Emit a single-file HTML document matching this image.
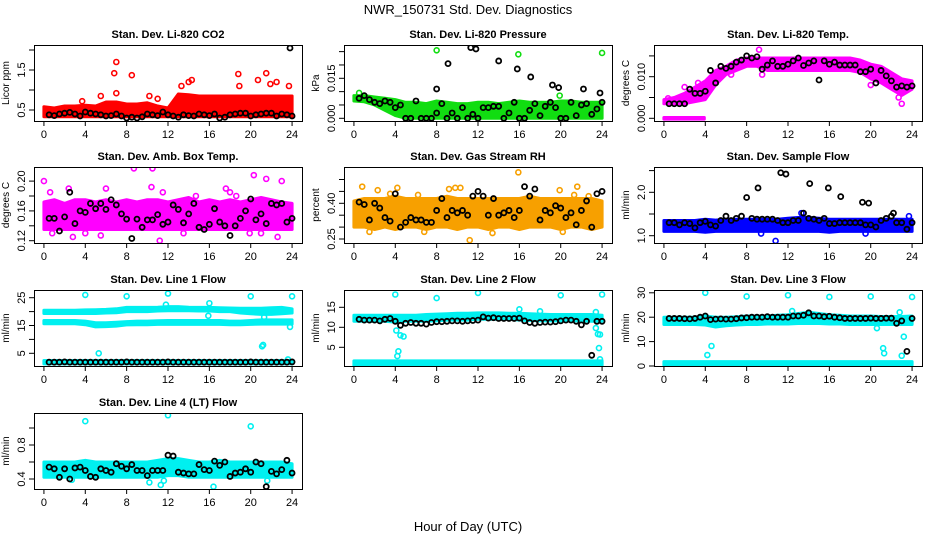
<!DOCTYPE html>
<html><head><meta charset="utf-8"><style>
html,body{margin:0;padding:0;background:#fff}
svg{display:block;font-family:"Liberation Sans",sans-serif}
</style></head><body>
<svg id="chart" width="936" height="540" viewBox="0 0 936 540" xmlns="http://www.w3.org/2000/svg">
<text x="468" y="14" text-anchor="middle" font-size="13">NWR_150731 Std. Dev. Diagnostics</text>
<text x="468" y="531" text-anchor="middle" font-size="13">Hour of Day (UTC)</text>
</svg>
<script>
const hourTicks=[0,4,8,12,16,20,24];
const bandHours=[0,1,2,3,4,5,6,7,8,9,10,11,12,13,14,15,16,17,18,19,20,21,22,23,24];
const halfHours=[];for(let i=1;i<=48;i++)halfHours.push(i*0.5);

// Panel 1 CO2
const co2Lo=[0.33,0.33,0.33,0.33,0.33,0.33,0.33,0.33,0.33,0.33,0.33,0.33,0.33,0.33,0.33,0.33,0.33,0.33,0.33,0.33,0.33,0.33,0.33,0.33,0.33];
const co2Hi=[0.58,0.55,0.6,0.6,0.62,0.6,0.7,0.7,0.65,0.65,0.68,0.6,0.55,0.9,0.88,0.85,0.85,0.85,0.85,0.85,0.85,0.85,0.85,0.85,0.85];
const co2Out=[[6.8,1.42],[7.0,1.7],[8.5,1.37],[13.3,1.1],[14,1.2],[14.3,1.25],[18.8,1.4],[18.9,1.1],[20.7,1.25],[21.5,1.42],[21.9,1.15],[22.5,1.2],[23.7,1.1],[7.0,0.92],[3.7,0.72],[10.2,0.85],[5.5,0.85],[11,0.78]];
const co2Black=[0.38,0.36,0.4,0.42,0.44,0.4,0.35,0.45,0.42,0.4,0.38,0.35,0.36,0.4,0.35,0.3,0.32,0.3,0.33,0.4,0.38,0.36,0.45,0.38,0.35,0.32,0.38,0.36,0.35,0.4,0.38,0.36,0.4,0.3,0.32,0.38,0.4,0.42,0.42,0.35,0.38,0.4,0.42,0.42,0.35,0.4,0.38,0.35];
const co2BlackOut=[[23.8,2.05]];
// Panel 2 Pressure
const presLo=[0.0065,0.0062,0.005,0.003,0.001,0,0,0,0,0,0,0,0,0,0,0,0,0,0,0,0,0,0,0,0];
const presHi=[0.0085,0.0085,0.008,0.0075,0.007,0.006,0.006,0.0055,0.0065,0.006,0.0055,0.0055,0.006,0.006,0.0055,0.006,0.0065,0.006,0.006,0.006,0.0065,0.0065,0.006,0.006,0.006];
const presOut=[[8,0.0255],[15.9,0.024],[24,0.0245],[0.5,0.0095],[19.9,0.0085]];
const presBlack=[0.0075,0.0085,0.007,0.006,0.0055,0.0065,0.006,0.004,0.005,0,0,0.0065,0,0,0,0.002,0.0055,0,0.002,0,0.004,0,0.0015,0,0.004,0.004,0.0045,0.0045,0,0.002,0.006,0,0,0.003,0.0055,0.001,0.0045,0.006,0.004,0,0,0.006,0.001,0.005,0.0055,0.0015,0.0035,0.006];
const presBlackOut=[[8,0.011],[9.1,0.0205],[11.3,0.0265],[11.8,0.026],[14,0.0215],[15.8,0.0185],[17.1,0.0155],[19.2,0.0125],[19.8,0.0115],[22.2,0.011],[23.8,0.0095]];
// Panel 3 Temp
const tempLo=[0.0035,0.0035,0.0035,0.004,0.0045,0.008,0.0105,0.0115,0.0125,0.0125,0.0115,0.0115,0.0115,0.0115,0.0115,0.0115,0.0115,0.0115,0.0115,0.011,0.0095,0.0085,0.007,0.0055,0.007];
const tempHi=[0.0045,0.005,0.006,0.0075,0.009,0.0115,0.0125,0.014,0.0145,0.0145,0.0145,0.0145,0.0145,0.0145,0.0145,0.0145,0.0145,0.0145,0.0145,0.014,0.013,0.0125,0.011,0.0095,0.009];
const tempZeroLo=[-0.0002,-0.0002,-0.0002,-0.0002,-0.0002];
const tempZeroHi=[0.0002,0.0002,0.0002,0.0002,0.0002];
const tempOut=[[9.2,0.0165],[2,0.0075],[3.3,0.0085],[0.4,0.0048],[20,0.008],[23,0.0035],[22.7,0.005],[9.5,0.0105],[6.5,0.0105]];
const tempBlack=[0.0035,0.0035,0.0035,0.0035,0.007,0.006,0.006,0.0065,0.0115,0.0085,0.0125,0.012,0.0125,0.0135,0.014,0.015,0.0145,0.0148,0.0118,0.0128,0.0138,0.0125,0.0125,0.013,0.0138,0.0145,0.0127,0.0133,0.0138,0.0092,0.0138,0.013,0.0135,0.0128,0.0128,0.0128,0.0128,0.0112,0.0112,0.0118,0.0085,0.0115,0.0102,0.009,0.0075,0.0078,0.0075,0.0078];
// Panel 4 Amb box temp
const ambLo=[0.135,0.135,0.135,0.135,0.135,0.135,0.135,0.135,0.135,0.135,0.135,0.135,0.135,0.135,0.135,0.135,0.135,0.135,0.135,0.135,0.135,0.135,0.135,0.135,0.135];
const ambHi=[0.172,0.175,0.17,0.175,0.175,0.172,0.175,0.172,0.175,0.172,0.175,0.175,0.172,0.175,0.178,0.172,0.175,0.172,0.175,0.172,0.175,0.178,0.175,0.172,0.17];
const ambOut=[[0,0.2],[0.6,0.185],[2.4,0.19],[8.7,0.217],[10.5,0.217],[10.4,0.192],[11.2,0.12],[20.3,0.208],[21.5,0.203],[23,0.2],[2.8,0.125],[5.5,0.127],[22.6,0.125],[19.9,0.13],[6,0.19],[11.5,0.185],[17.6,0.19],[18,0.185],[14.7,0.18],[0.8,0.13],[4,0.13],[13.5,0.13],[21,0.13],[18.6,0.18]];
const ambBlack=[0.15,0.15,0.133,0.152,0.185,0.143,0.16,0.158,0.17,0.163,0.17,0.162,0.175,0.168,0.156,0.149,0.123,0.149,0.138,0.148,0.148,0.155,0.142,0.145,0.168,0.162,0.144,0.156,0.17,0.138,0.135,0.142,0.163,0.145,0.14,0.127,0.14,0.15,0.16,0.176,0.148,0.156,0.143,0.17,0.168,0.17,0.145,0.15];
// Panel 5 RH
const rhLo=[0.3,0.3,0.29,0.3,0.29,0.3,0.3,0.29,0.3,0.3,0.29,0.3,0.3,0.29,0.3,0.3,0.29,0.3,0.3,0.3,0.29,0.3,0.3,0.29,0.3];
const rhHi=[0.41,0.42,0.42,0.42,0.43,0.42,0.42,0.42,0.42,0.43,0.42,0.42,0.42,0.42,0.42,0.42,0.42,0.43,0.42,0.42,0.42,0.42,0.42,0.42,0.41];
const rhOut=[[0.8,0.47],[2.3,0.455],[4.2,0.465],[9.2,0.46],[9.8,0.465],[10.3,0.465],[15.9,0.53],[11.2,0.245],[21.6,0.47],[22.7,0.43],[19.9,0.455],[6.2,0.435],[21.3,0.435],[13.4,0.275],[20.2,0.28],[1.5,0.28],[6.8,0.28],[3.5,0.44]];
const rhBlack=[0.405,0.395,0.33,0.4,0.38,0.34,0.325,0.44,0.3,0.32,0.34,0.33,0.33,0.32,0.32,0.37,0.42,0.34,0.37,0.36,0.37,0.35,0.43,0.45,0.43,0.35,0.42,0.35,0.36,0.37,0.34,0.37,0.47,0.43,0.46,0.33,0.37,0.36,0.39,0.38,0.34,0.36,0.31,0.37,0.41,0.3,0.44,0.45];
// Panel 6 Sample flow
const sfLo=[1.1,1.1,1.1,1.1,1.08,1.1,1.1,1.1,1.1,1.1,1.1,1.1,1.1,1.1,1.1,1.1,1.08,1.1,1.1,1.1,1.1,1.1,1.1,1.1,1.1];
const sfHi=[1.35,1.35,1.35,1.35,1.38,1.36,1.38,1.38,1.38,1.38,1.38,1.38,1.4,1.42,1.42,1.4,1.38,1.38,1.38,1.38,1.38,1.38,1.38,1.38,1.38];
const sfOut=[[10.8,0.88],[13.3,1.52],[23.7,1.45],[9.4,1.05],[19.5,1.05]];
const sfBlack=[1.3,1.3,1.25,1.3,1.28,1.18,1.3,1.33,1.25,1.22,1.35,1.45,1.35,1.4,1.45,1.88,1.4,1.38,1.38,1.38,1.38,1.35,1.3,1.3,1.35,1.35,1.52,1.4,1.38,1.35,1.4,1.28,1.28,1.3,1.3,1.3,1.3,1.3,1.25,1.25,1.2,1.35,1.4,1.45,1.3,1.3,1.15,1.3];
const sfBlackOut=[[9.1,2.1],[11.3,2.45],[11.8,2.42],[14.1,2.2],[15.9,2.1],[17.1,1.9],[19.2,1.77],[19.8,1.75],[22.2,1.52]];
// Panel 7 Line 1
const l1UpLo=[19.3,19.3,19.3,19.3,19.3,19.3,19.5,19.6,20,20,20,20.2,20.3,20.3,20.3,20.2,20.2,20,20,19.5,19.2,19,19,19.2,19.5];
const l1UpHi=[20.5,20.5,20.5,20.5,20.6,20.7,20.8,21,21.5,21.5,21.5,21.6,21.8,21.8,21.6,21.5,21.5,21.4,21.3,21.2,21.2,21.2,21.4,21.5,21];
const l1MidLo=[15.6,15.6,15.6,15.6,15.3,14.5,14.6,14.8,15.2,15.3,15.3,15.4,15.4,15.4,15.4,15.4,15.4,15.4,15.3,15.3,15.4,15.5,15.5,15.5,15.5];
const l1MidHi=[16.8,16.8,16.8,16.8,16.6,16,16,16.2,16.4,16.6,16.6,16.7,16.8,16.8,16.8,16.8,16.8,16.8,16.6,16.6,16.8,17,17,17,17];
const l1BotLo=[1.2,1.2,1.2,1.2,1.2,1.2,1.2,1.2,1.2,1.2,1.2,1.2,1.2,1.2,1.2,1.2,1.2,1.2,1.2,1.2,1.2,1.2,1.2,1.2,1.2];
const l1BotHi=[2.4,2.4,2.4,2.4,2.4,2.4,2.4,2.4,2.4,2.4,2.4,2.4,2.4,2.4,2.4,2.4,2.4,2.4,2.4,2.4,2.4,2.4,2.4,2.4,2.4];
const l1Out=[[4,26],[8,25.5],[12,26.5],[16,23],[20,25.5],[24,25.5],[5.3,5],[21.2,8],[21.1,7.5],[23.6,2.8],[23.8,14.5],[11.8,22.5],[15.9,18.5],[21.3,18]];
const l1Black=[1.8,1.8,1.8,1.9,1.8,1.8,1.8,1.8,1.8,1.8,1.8,1.8,1.8,1.8,1.8,1.9,1.8,1.8,1.8,1.8,1.8,1.8,1.8,1.9,1.8,1.8,1.8,1.8,1.8,1.8,1.8,1.8,1.8,1.8,1.8,1.8,1.8,1.8,1.8,1.9,1.8,1.8,1.8,1.8,1.8,1.8,1.8,1.9];
// Panel 8 Line 2
const l2Lo=[11.5,11.5,11.5,11.5,11.3,11.5,11.5,11.5,11.6,11.8,11.8,11.8,12,12,12,12,11.8,11.7,11.6,11.6,11.6,11.6,11.6,11.5,11.5];
const l2Hi=[13,13,13,13,13,13,13,13.2,13.3,13.4,13.5,13.5,13.6,13.6,13.6,13.5,13.5,13.4,13.3,13.2,13.2,13.2,13.2,13.2,13];
const l2BotLo=[0.5,0.5,0.5,0.5,0.5,0.5,0.5,0.5,0.5,0.5,0.5,0.5,0.5,0.5,0.5,0.5,0.5,0.5,0.5,0.5,0.5,0.5,0.5,0.5,0.5];
const l2BotHi=[1.6,1.6,1.6,1.6,1.6,1.6,1.6,1.6,1.6,1.6,1.6,1.6,1.6,1.6,1.6,1.6,1.6,1.6,1.6,1.6,1.6,1.6,1.6,1.6,1.6];
const l2Out=[[4,18.2],[8,17.3],[12,18.6],[16,14.5],[20,18],[24,18.2],[4.1,9.2],[4.5,8],[4.8,7.7],[4.3,4],[4.2,2.8],[23.4,9.8],[23.6,8.3],[23.8,8.2],[23.7,4.8],[23.8,2],[23.4,13.8],[18,14]];
const l2Black=[12,11.8,11.8,11.8,11.6,12,12.2,11.5,10.5,11,11.2,11,11,10.8,11.2,11.4,11.4,11.5,11.6,11.6,11.5,11.6,11.7,11.8,12.6,12.3,12.4,12.2,12.2,12.2,12.2,12.3,11.6,11.2,11,11.2,11.3,11.3,11.4,11.6,11.8,11.8,11.5,10.6,11.5,3,11.5,11.5];
// Panel 9 Line 3
const l3Lo=[17,17,17,17,16.8,16,16.5,16.8,17,17,17.2,17.2,17.2,17.4,17.4,17.4,17.2,17.2,17,17,17,17,17,17,17];
const l3Hi=[20,20,20,20,20.5,20,20,20.2,20.5,20.5,20.5,20.8,21,21.5,22,21.5,21,20.8,20.5,20.5,20.5,20.3,20.3,20.3,20.5];
const l3BotLo=[0.4,0.4,0.4,0.4,0.4,0.4,0.4,0.4,0.4,0.4,0.4,0.4,0.4,0.4,0.4,0.4,0.4,0.4,0.4,0.4,0.4,0.4,0.4,0.4,0.4];
const l3BotHi=[1.8,1.8,1.8,1.8,1.8,1.8,1.8,1.8,1.8,1.8,1.8,1.8,1.8,1.8,1.8,1.8,1.8,1.8,1.8,1.8,1.8,1.8,1.8,1.8,1.8];
const l3Out=[[4,30],[8,28.5],[12,29],[16,28.3],[20,28.5],[24,28.3],[4.2,4.5],[4.6,8.2],[21.2,7.3],[21.3,5.2],[22.8,22],[23.2,12],[23,4.2],[20.6,15.5],[12.4,22.5]];
const l3Black=[19.5,19.5,19.5,19.4,19.3,19.5,20,20.5,19,19.2,19.3,19.2,19.2,19.4,19.7,19.8,20,20,20,20.2,20,20,20,20,20.5,20.5,20.8,21.8,20.5,20.5,20.2,20.4,20,19.8,19.5,19.5,19.5,19.5,19.5,19.6,19.5,19.5,19.6,19.6,17.5,18.5,6,19.5];
// Panel 10 Line 4
const l4Lo=[0.42,0.42,0.42,0.42,0.42,0.42,0.42,0.42,0.42,0.42,0.42,0.42,0.44,0.44,0.42,0.42,0.42,0.42,0.42,0.42,0.42,0.42,0.42,0.42,0.42];
const l4Hi=[0.6,0.6,0.6,0.6,0.62,0.6,0.6,0.6,0.6,0.6,0.6,0.62,0.64,0.64,0.62,0.6,0.6,0.62,0.6,0.6,0.6,0.6,0.6,0.6,0.58];
const l4Out=[[4,1.08],[12,1.15],[20,1.02],[11.3,0.33],[16.4,0.31],[10.2,0.36],[2.7,0.39],[11.6,0.38],[21.6,0.38]];
const l4Black=[0.54,0.52,0.42,0.52,0.4,0.53,0.54,0.5,0.43,0.42,0.52,0.5,0.48,0.58,0.55,0.52,0.57,0.5,0.5,0.44,0.5,0.5,0.5,0.68,0.67,0.48,0.47,0.46,0.46,0.57,0.51,0.5,0.61,0.56,0.6,0.43,0.47,0.48,0.52,0.48,0.6,0.58,0.31,0.49,0.46,0.51,0.62,0.47];

const NS="http://www.w3.org/2000/svg";
const svg=document.getElementById('chart');
function mk(tag,attrs,parent){const e=document.createElementNS(NS,tag);for(const k in attrs)e.setAttribute(k,attrs[k]);(parent||svg).appendChild(e);return e;}

const panels=[
 {name:'co2',title:'Stan. Dev. Li-820 CO2',ylab:'Licor ppm',left:34,top:45,v0:0.5,p0:110,k:40,ticks:[0.5,1,1.5,2],labels:['0.5','','1.5',''],color:'#ff0000',bands:[[bandHours,co2Lo,co2Hi]],out:co2Out,black:co2Black,bout:co2BlackOut},
 {name:'pressure',title:'Stan. Dev. Li-820 Pressure',ylab:'kPa',left:344,top:45,v0:0,p0:118.3,k:2667,ticks:[0,0.005,0.01,0.015,0.02,0.025],labels:['0.000','','','0.015','',''],color:'#11dd11',bands:[[bandHours,presLo,presHi]],out:presOut,black:presBlack,bout:presBlackOut},
 {name:'temp',title:'Stan. Dev. Li-820 Temp.',ylab:'degrees C',left:654,top:45,v0:0,p0:118.3,k:4160,ticks:[0,0.005,0.01,0.015],labels:['0.000','','0.010',''],color:'#ff00ff',bands:[[bandHours,tempLo,tempHi],[[0,1,2,3,3.9],tempZeroLo,tempZeroHi]],out:tempOut,black:tempBlack,bout:[]},
 {name:'amb-temp',title:'Stan. Dev. Amb. Box Temp.',ylab:'degrees C',left:34,top:167,v0:0.12,p0:240.7,k:745,ticks:[0.12,0.14,0.16,0.18,0.2],labels:['0.12','','0.16','','0.20'],color:'#ff00ff',bands:[[bandHours,ambLo,ambHi]],out:ambOut,black:ambBlack,bout:[]},
 {name:'rh',title:'Stan. Dev. Gas Stream RH',ylab:'percent',left:344,top:167,v0:0.25,p0:239,k:238,ticks:[0.25,0.3,0.35,0.4,0.45,0.5],labels:['0.25','','','0.40','',''],color:'#f7a000',bands:[[bandHours,rhLo,rhHi]],out:rhOut,black:rhBlack,bout:[]},
 {name:'sample-flow',title:'Stan. Dev. Sample Flow',ylab:'ml/min',left:654,top:167,v0:1,p0:235.7,k:43.4,ticks:[1,1.5,2,2.5],labels:['1.0','','2.0',''],color:'#0000ff',bands:[[bandHours,sfLo,sfHi]],out:sfOut,black:sfBlack,bout:sfBlackOut},
 {name:'line1',title:'Stan. Dev. Line 1 Flow',ylab:'ml/min',left:34,top:290,v0:5,p0:353.3,k:2.78,ticks:[5,10,15,20,25],labels:['5','','15','','25'],color:'#00f0f0',bands:[[bandHours,l1UpLo,l1UpHi],[bandHours,l1MidLo,l1MidHi],[bandHours,l1BotLo,l1BotHi]],out:l1Out,black:l1Black,bout:[]},
 {name:'line2',title:'Stan. Dev. Line 2 Flow',ylab:'ml/min',left:344,top:290,v0:0,p0:367.3,k:4,ticks:[5,10,15],labels:['5','10','15'],color:'#00f0f0',bands:[[bandHours,l2Lo,l2Hi],[bandHours,l2BotLo,l2BotHi]],out:l2Out,black:l2Black,bout:[]},
 {name:'line3',title:'Stan. Dev. Line 3 Flow',ylab:'ml/min',left:654,top:290,v0:0,p0:366,k:2.44,ticks:[0,10,20,30],labels:['0','10','20','30'],color:'#00f0f0',bands:[[bandHours,l3Lo,l3Hi],[bandHours,l3BotLo,l3BotHi]],out:l3Out,black:l3Black,bout:[]},
 {name:'line4',title:'Stan. Dev. Line 4 (LT) Flow',ylab:'ml/min',left:34,top:413,v0:0.4,p0:479,k:85,ticks:[0.4,0.6,0.8,1.0],labels:['0.4','','0.8',''],color:'#00f0f0',bands:[[bandHours,l4Lo,l4Hi]],out:l4Out,black:l4Black,bout:[]}
];

panels.forEach(p=>{
 const W=268,H=76;
 const xs=h=>p.left+(h+0.96)*W/25.92;
 const ys=v=>p.p0-(v-p.v0)*p.k;
 const g=mk('g',{});
 
 
 const cid='clip-'+p.name;
 const cp=mk('clipPath',{id:cid},g);mk('rect',{x:p.left,y:p.top,width:W,height:H},cp);
 const plot=mk('g',{'clip-path':'url(#'+cid+')'},g);
 
 
 p.bands.forEach(b=>{
  const [hs,lo,hi]=b;let d='';
  hs.forEach((h,i)=>{d+=(i?'L':'M')+xs(h).toFixed(1)+','+ys(hi[i]).toFixed(1);});
  for(let i=hs.length-1;i>=0;i--)d+='L'+xs(hs[i]).toFixed(1)+','+ys(lo[i]).toFixed(1);
  const band=mk('path',{d:d+'Z',fill:p.color,stroke:p.color,'stroke-width':3,'stroke-linejoin':'round'},plot);
  
  
 });
 p.out.forEach(o=>{
  const c=mk('circle',{cx:xs(o[0]),cy:ys(o[1]),r:2.5,fill:'none',stroke:p.color,'stroke-width':1.6},plot);
  
  
 });
 const blacks=p.black.map((v,i)=>[halfHours[i],v]).concat(p.bout);
 blacks.forEach(o=>{
  const c=mk('circle',{cx:xs(o[0]),cy:ys(o[1]),r:2.5,fill:'none',stroke:'#000','stroke-width':1.8},plot);
  
  
 });
 const box=mk('rect',{x:p.left+0.5,y:p.top+0.5,width:W,height:H,fill:'none',stroke:'#000','stroke-width':1},g);
 
 
 const tt=mk('text',{x:p.left+W/2,y:p.top-7,'text-anchor':'middle','font-size':11,'font-weight':'bold'},g);tt.textContent=p.title;
 
 
 const yb=p.top+H;
 hourTicks.forEach(h=>{
  mk('line',{x1:xs(h),x2:xs(h),y1:yb,y2:yb+5,stroke:'#000'},g);
  const t=mk('text',{x:xs(h),y:yb+17,'text-anchor':'middle','font-size':11},g);t.textContent=h;
  
  
 });
 p.ticks.forEach((v,i)=>{
  const y=ys(v);
  mk('line',{x1:p.left-5,x2:p.left,y1:y,y2:y,stroke:'#000'},g);
  if(p.labels[i]){
   const t=mk('text',{x:p.left-9,y:y,'text-anchor':'middle','font-size':11,transform:'rotate(-90 '+(p.left-9)+' '+y+')'},g);t.textContent=p.labels[i];
   
   
  }
 });
 const yl=mk('text',{x:p.left-25,y:p.top+H/2,'text-anchor':'middle','font-size':10,transform:'rotate(-90 '+(p.left-25)+' '+(p.top+H/2)+')'},g);yl.textContent=p.ylab;
 
 
});
</script>
</body></html>
